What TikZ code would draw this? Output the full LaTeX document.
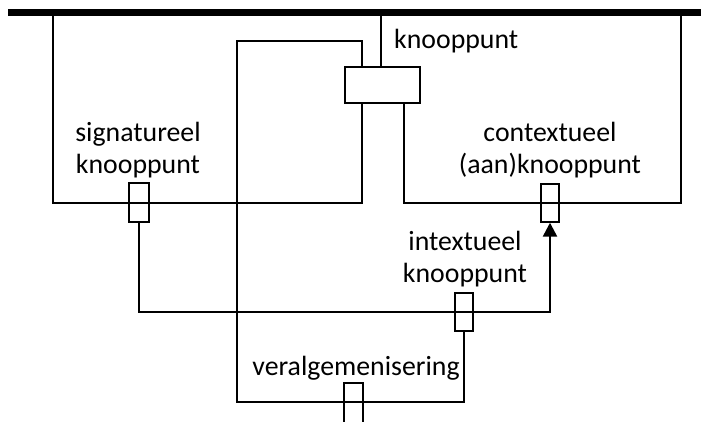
\documentclass[tikz,border=0pt]{standalone}
\usepackage{fontspec}
\setmainfont{Carlito}
\usetikzlibrary{arrows.meta}
\begin{document}
\begin{tikzpicture}[x=1pt,y=-1pt,
  wire/.style={line width=1.4pt,line join=miter},
  thickwire/.style={line width=2.4pt,line join=miter},
  bar/.style={line width=7.5pt},
  portbox/.style={draw,line width=1.4pt,inner sep=0pt,minimum width=#1},
  lbl/.style={font=\fontsize{27.8}{32}\selectfont,inner sep=0pt,align=center,anchor=base}
]
\path[use as bounding box,fill=white] (0,0) rectangle (701,421);

% bar
\coordinate (barL) at (8,12.5);
\coordinate (barR) at (701,12.5);
\draw[bar] (barL) -- (barR);

% boxes
\node[portbox=75pt,minimum height=36pt] (K) at (382.5,85) {};
\node[portbox=20pt,minimum height=39pt] (S) at (139,202.5) {};
\node[portbox=18pt,minimum height=38pt] (C) at (550,203) {};
\node[portbox=18pt,minimum height=38pt] (I) at (464,312) {};
\node[portbox=19pt,minimum height=60pt] (V) at (353.5,413) {};

% coordinates on edges
\coordinate (kt1) at (362,67);
\coordinate (kt2) at (381,67);
\coordinate (kb1) at (362,103);
\coordinate (kb2) at (404,103);
\coordinate (b1) at (381,12.5);
\coordinate (bl) at (53,12.5);
\coordinate (br) at (681,12.5);

% connectors
\draw[wire] (b1) -- (kt2);
\draw[wire] (kt1) -- (362,41) -- (237,41) -- (237,402) -- (464,402) -- (I.south);
\draw[wire] (bl) -- (53,203) -- (362,203) -- (kb1);
\draw[wire] (kb2) -- (404,203) -- (681,203) -- (br);
\draw[wire] (S.south) |- (I.east);
\draw[thickwire,-{Triangle[length=14pt,width=14pt]}] (I.east) -| (C.south);

% labels
\node[lbl,anchor=base west] (tK) at (394,48) {knooppunt};
\node[lbl] (tS) at (138,173) {signatureel\\knooppunt};
\node[lbl] (tC) at (550,173) {contextueel\\(aan)knooppunt};
\node[lbl] (tI) at (465,282) {intextueel\\knooppunt};
\node[lbl] (tV) at (356,375) {veralgemenisering};
\end{tikzpicture}
\end{document}
